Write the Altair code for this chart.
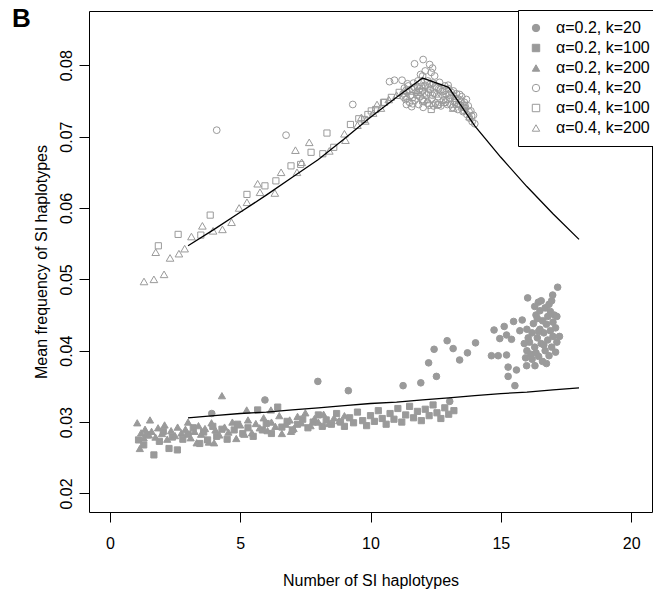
import altair as alt
import pandas as pd

GRAY = "#9a9a9a"
FONT = "Liberation Sans"

series_names = ["α=0.2, k=20", "α=0.2, k=100", "α=0.2, k=200",
                "α=0.4, k=20", "α=0.4, k=100", "α=0.4, k=200"]
series_shapes = ["circle", "square", "triangle-up", "circle", "square", "triangle-up"]
series_fills = [GRAY, GRAY, GRAY, "transparent", "transparent", "transparent"]
series_strokes = [GRAY] * 6
series_sizes = [44, 38, 52, 46, 38, 58]

# alpha=0.2, k=20 (filled circles)
a2k20_x = [3.91, 5.95, 7.98, 9.15, 11.25, 11.93, 12.23, 12.53, 12.44, 12.94, 13.17, 13.42, 13.72,
           14.03, 13.04, 14.74, 15.13, 15.49, 15.82, 14.96, 15.22, 15.41, 14.64, 14.90, 15.22,
           15.28, 15.60, 15.28, 15.54, 15.73, 16.03, 16.44, 16.99, 17.18, 17.25, 16.31, 15.99,
           16.0, 16.1, 16.15, 16.2, 16.25, 16.3, 16.35, 16.4, 16.45, 16.5, 16.5, 16.55, 16.6,
           16.6, 16.65, 16.7, 16.7, 16.75, 16.8, 16.8, 16.85, 16.9, 16.9, 16.95, 17.0, 17.0,
           17.05, 17.1, 17.1, 17.15, 16.4, 16.3, 16.55, 16.85, 16.2, 16.05, 16.65, 16.45,
           16.75, 16.95, 17.15, 16.35, 15.95, 16.0, 15.9]
a2k20_y = [0.0312, 0.0331, 0.0357, 0.0344, 0.0351, 0.0355, 0.0383, 0.0364, 0.0402, 0.0414, 0.0403,
           0.0387, 0.0397, 0.0411, 0.0329, 0.0429, 0.0434, 0.0441, 0.0443, 0.0417, 0.0422, 0.0416,
           0.0393, 0.0393, 0.0394, 0.0377, 0.0373, 0.0364, 0.0351, 0.0428, 0.0474, 0.0468, 0.0478,
           0.0489, 0.0420, 0.0379, 0.0379,
           0.0400, 0.0412, 0.0395, 0.0425, 0.0438, 0.0405, 0.0450, 0.0418, 0.0392, 0.0430, 0.0456,
           0.0410, 0.0442, 0.0385, 0.0425, 0.0460, 0.0400, 0.0437, 0.0415, 0.0448, 0.0393, 0.0428,
           0.0455, 0.0405, 0.0440, 0.0420, 0.0450, 0.0432, 0.0398, 0.0412, 0.0445, 0.0462, 0.0470,
           0.0465, 0.0388, 0.0418, 0.0408, 0.0427, 0.0382, 0.0470, 0.0448, 0.0397, 0.0390, 0.0430,
           0.0410]

# alpha=0.2, k=100 (filled squares)
a2k100_x = [1.1, 1.3, 1.45, 1.69, 1.9, 2.05, 2.27, 2.4, 2.59, 2.8, 3.0, 3.2, 3.45, 3.6, 3.75, 3.95,
            4.1, 4.3, 4.5, 4.77, 4.9, 5.1, 5.3, 5.5, 5.67, 5.85, 6.0, 6.2, 6.44, 6.6, 6.8, 7.0, 7.2,
            7.4, 7.6, 7.8, 8.0, 8.15, 8.3, 8.5, 8.7, 8.85, 9.0, 9.2, 9.35, 9.5, 9.7, 9.85, 10.0,
            10.15, 10.3, 10.45, 10.6, 10.75, 10.9, 11.05, 11.2, 11.35, 11.5, 11.65, 11.8, 11.95,
            12.1, 12.25, 12.4, 12.55, 12.7, 12.85, 13.0, 13.2]
a2k100_y = [0.0275, 0.0268, 0.0282, 0.0254, 0.0273, 0.0287, 0.0263, 0.0279, 0.0261, 0.0276, 0.0283,
            0.0292, 0.0270, 0.0286, 0.0275, 0.0294, 0.0280, 0.0290, 0.0276, 0.0289, 0.0297, 0.0284,
            0.0292, 0.0280, 0.0317, 0.0289, 0.0298, 0.0284, 0.0321, 0.0293, 0.0301, 0.0289, 0.0297,
            0.0304, 0.0292, 0.0300, 0.0310, 0.0294, 0.0303, 0.0297, 0.0312, 0.0300, 0.0294, 0.0306,
            0.0299, 0.0314, 0.0302, 0.0295, 0.0309, 0.0301, 0.0316, 0.0305, 0.0297, 0.0312, 0.0304,
            0.0319, 0.0300, 0.0310, 0.0322, 0.0306, 0.0315, 0.0302, 0.0318, 0.0309, 0.0324, 0.0313,
            0.0305, 0.0320, 0.0311, 0.0316]

# alpha=0.2, k=200 (filled triangles)
a2k200_x = [1.05, 1.15, 1.2, 1.3, 1.35, 1.5, 1.54, 1.6, 1.75, 1.85, 2.0, 2.1, 2.2, 2.35, 2.5, 2.6,
            2.75, 2.9, 3.0, 3.1, 3.25, 3.33, 3.4, 3.5, 3.65, 3.8, 3.9, 4.0, 4.05, 4.2, 4.3, 4.4,
            4.55, 4.7, 4.85, 5.0, 5.16, 5.25, 5.3, 5.45, 5.6, 5.75, 5.9, 6.05, 6.18, 6.2, 6.35,
            6.5, 6.6, 6.75, 6.9, 6.95, 7.05, 7.2, 7.35, 7.5, 7.7, 7.85, 8.0, 8.2, 8.4, 8.6, 8.8, 9.0]
a2k200_y = [0.0299, 0.0263, 0.0285, 0.0278, 0.0290, 0.0282, 0.0303, 0.0287, 0.0279, 0.0292, 0.0284,
            0.0296, 0.0276, 0.0288, 0.0281, 0.0293, 0.0285, 0.0290, 0.0300, 0.0278, 0.0287, 0.0271,
            0.0295, 0.0283, 0.0291, 0.0272, 0.0299, 0.0271, 0.0289, 0.0282, 0.0337, 0.0293, 0.0286,
            0.0300, 0.0277, 0.0296, 0.0283, 0.0317, 0.0303, 0.0285, 0.0298, 0.0292, 0.0306, 0.0288,
            0.0317, 0.0300, 0.0294, 0.0309, 0.0284, 0.0297, 0.0303, 0.0287, 0.0291, 0.0308, 0.0299,
            0.0313, 0.0295, 0.0305, 0.0300, 0.0311, 0.0298, 0.0306, 0.0302, 0.0309]

# alpha=0.4, k=20 (open circles)
a4k20_x = [4.10, 6.76, 9.32, 10.73, 10.92, 11.21, 11.69, 12.02, 12.27, 11.92, 12.33, 12.46,
           11.25, 11.30, 11.35, 11.40, 11.45, 11.50, 11.55, 11.60, 11.65, 11.70, 11.75, 11.80,
           11.85, 11.90, 11.95, 12.00, 12.05, 12.10, 12.15, 12.20, 12.25, 12.30, 12.35, 12.40,
           12.45, 12.50, 12.55, 12.60, 12.65, 12.70, 12.75, 12.80, 12.85, 12.90, 12.95, 13.00,
           13.05, 13.10, 13.15, 13.20, 13.25, 13.30, 13.35, 13.40, 13.45, 13.50, 13.55, 13.60,
           13.65, 13.70, 13.75, 13.80, 13.85, 13.90, 13.95, 14.00, 12.00, 12.10, 12.38,
           11.28, 11.38, 11.48, 11.58, 11.68, 11.78, 11.88, 11.98, 12.08, 12.18, 12.28, 12.38,
           12.48, 12.58, 12.68, 12.78, 12.88, 12.98, 13.08, 13.18, 13.28, 13.38, 13.48, 13.58,
           13.68, 13.78, 13.88, 11.42, 11.62, 11.82, 12.02, 12.22, 12.42, 12.62, 12.82, 13.02,
           13.22, 13.42, 13.62]
a4k20_y = [0.0709, 0.0702, 0.0745, 0.0777, 0.0779, 0.0779, 0.0802, 0.0808, 0.0801, 0.0787, 0.0790,
           0.0785,
           0.0760, 0.0768, 0.0752, 0.0763, 0.0771, 0.0748, 0.0758, 0.0766, 0.0775, 0.0751, 0.0762,
           0.0770, 0.0745, 0.0756, 0.0776, 0.0764, 0.0749, 0.0772, 0.0758, 0.0778, 0.0744, 0.0766,
           0.0753, 0.0775, 0.0761, 0.0747, 0.0769, 0.0756, 0.0776, 0.0743, 0.0763, 0.0751, 0.0771,
           0.0759, 0.0745, 0.0767, 0.0754, 0.0762, 0.0741, 0.0757, 0.0748, 0.0760, 0.0738, 0.0752,
           0.0744, 0.0756, 0.0735, 0.0748, 0.0740, 0.0731, 0.0743, 0.0726, 0.0736, 0.0721, 0.0730,
           0.0718, 0.0785, 0.0792, 0.0796,
           0.0755, 0.0745, 0.0765, 0.0742, 0.0769, 0.0758, 0.0767, 0.0752, 0.0761, 0.0747, 0.0773,
           0.0758, 0.0770, 0.0744, 0.0766, 0.0757, 0.0748, 0.0772, 0.0745, 0.0764, 0.0753, 0.0745,
           0.0749, 0.0741, 0.0752, 0.0735, 0.0729, 0.0774, 0.0746, 0.0778, 0.0741, 0.0762, 0.0743,
           0.0767, 0.0764, 0.0758, 0.0750, 0.0759, 0.0744]

# alpha=0.4, k=100 (open squares)
a4k100_x = [1.86, 2.62, 3.49, 3.85, 5.26, 5.95, 6.37, 6.95, 7.32, 7.72, 8.17, 8.33, 8.59, 9.23,
            9.55, 9.77, 9.9, 10.03, 10.2, 10.5, 10.54, 10.8, 11.1, 11.6, 11.9, 12.0, 12.2, 12.33,
            12.6, 12.9, 13.3, 13.6]
a4k100_y = [0.0547, 0.0563, 0.0562, 0.0590, 0.0619, 0.0631, 0.0638, 0.0659, 0.0661, 0.0678, 0.0676,
            0.0705, 0.0685, 0.0717, 0.0725, 0.0724, 0.0731, 0.0736, 0.0738, 0.0748, 0.0748, 0.0755,
            0.0762, 0.0755, 0.0762, 0.0750, 0.0768, 0.0738, 0.0745, 0.0752, 0.0745, 0.0737]

# alpha=0.4, k=200 (open triangles)
a4k200_x = [1.31, 1.69, 2.08, 1.76, 2.31, 2.65, 2.87, 3.13, 3.55, 3.96, 4.32, 4.67, 4.96, 5.26,
            5.67, 5.76, 6.33, 6.57, 7.12, 7.18, 7.36, 7.65, 8.42, 9.0, 9.04, 9.5, 9.65, 9.8, 10.1,
            10.25, 10.4, 10.7, 11.0, 11.3, 11.4, 11.8, 12.0, 12.2, 12.5, 12.8, 13.17, 13.5, 13.8]
a4k200_y = [0.0497, 0.0500, 0.0507, 0.0538, 0.0530, 0.0536, 0.0543, 0.0560, 0.0575, 0.0568, 0.0570,
            0.0580, 0.0600, 0.0608, 0.0634, 0.0622, 0.0621, 0.0650, 0.0681, 0.0650, 0.0664, 0.0692,
            0.0680, 0.0704, 0.0695, 0.0716, 0.0727, 0.0722, 0.0733, 0.0745, 0.0740, 0.0752, 0.0758,
            0.0765, 0.0757, 0.0765, 0.0772, 0.0752, 0.0760, 0.0748, 0.0740, 0.0742, 0.0728]

# expected curves
line_k = [3, 4, 5, 6, 7, 8, 9, 10, 11, 12, 13, 14, 15, 16, 17, 18]
upper_line_y = [0.0547, 0.0570, 0.0594, 0.0618, 0.0643, 0.0668, 0.0697, 0.0727, 0.0755, 0.0782,
                0.0769, 0.0715, 0.0671, 0.0630, 0.0592, 0.0556]
lower_line_y = [0.0306, 0.0309, 0.0312, 0.0314, 0.0317, 0.0320, 0.0323, 0.0326, 0.0328, 0.0331,
                0.0334, 0.0337, 0.0340, 0.0342, 0.0345, 0.0348]

x_ticks = [0, 5, 10, 15, 20]
y_ticks = [0.02, 0.03, 0.04, 0.05, 0.06, 0.07, 0.08]

series_xy = [(a2k20_x, a2k20_y), (a2k100_x, a2k100_y), (a2k200_x, a2k200_y),
             (a4k20_x, a4k20_y), (a4k100_x, a4k100_y), (a4k200_x, a4k200_y)]

xscale = alt.Scale(domain=[-0.8, 20.8], nice=False, zero=False)
yscale = alt.Scale(domain=[0.0174, 0.0876], nice=False, zero=False)

xaxis = alt.Axis(values=x_ticks, format="d", title="Number of SI haplotypes",
                 titleX=281.5, titleY=73, titleAlign="center", titleBaseline="alphabetic",
                 labelPadding=13, tickSize=10, labelOverlap=False, grid=False, domain=False)
yaxis = alt.Axis(values=y_ticks, format=".2f", title="Mean frequency of SI haplotypes",
                 labelAngle=270, labelAlign="center", labelBaseline="alphabetic",
                 labelPadding=8, tickSize=10, labelOverlap=False, grid=False, domain=False,
                 titleAngle=270, titleX=-43, titleY=250.5, titleAlign="center",
                 titleBaseline="alphabetic")

legend = alt.Legend(title=None, orient="none", legendX=429, legendY=-1, padding=10,
                    strokeColor="black", fillColor="white", symbolSize=55,
                    symbolStrokeWidth=1, labelFontSize=16,
                    labelFont=FONT, labelColor="black", rowPadding=4, labelOffset=12,
                    cornerRadius=0)

layers = []
for name, (xs, ys), sz in zip(series_names, series_xy, series_sizes):
    df = pd.DataFrame({"x": xs, "y": ys, "series": name})
    layers.append(
        alt.Chart(df).mark_point(size=sz, strokeWidth=1, opacity=1).encode(
            x=alt.X("x:Q", scale=xscale, axis=xaxis),
            y=alt.Y("y:Q", scale=yscale, axis=yaxis),
            shape=alt.Shape("series:N", scale=alt.Scale(domain=series_names, range=series_shapes),
                            legend=legend),
            fill=alt.Fill("series:N", scale=alt.Scale(domain=series_names, range=series_fills),
                          legend=legend),
            stroke=alt.Stroke("series:N", scale=alt.Scale(domain=series_names, range=series_strokes),
                              legend=legend),
        )
    )

lines_df = pd.concat([
    pd.DataFrame({"x": line_k, "y": upper_line_y, "curve": "upper"}),
    pd.DataFrame({"x": line_k, "y": lower_line_y, "curve": "lower"}),
])
lines = alt.Chart(lines_df).mark_line(color="black", strokeWidth=1.3).encode(
    x=alt.X("x:Q", scale=xscale, axis=xaxis),
    y=alt.Y("y:Q", scale=yscale, axis=yaxis),
    detail="curve:N",
)

panel_df = pd.DataFrame({"label": ["B"]})
panel = alt.Chart(panel_df).mark_text(font=FONT, fontSize=26, fontWeight="bold",
                                      align="left", baseline="alphabetic", color="black").encode(
    text="label:N", x=alt.value(-77), y=alt.value(16))

chart = alt.layer(*layers, lines, panel).properties(
    width=563, height=501,
    autosize=alt.AutoSizeParams(type="none"),
    padding={"left": 89, "top": 11, "right": 1, "bottom": 80},
).configure_view(
    stroke="black", strokeWidth=1
).configure_axis(
    grid=False, domain=False, tickColor="black", tickWidth=1,
    labelFont=FONT, labelFontSize=16, labelColor="black",
    titleFont=FONT, titleFontSize=16, titleFontWeight="normal", titleColor="black",
)

chart.save("out.html", embed_options={"renderer": "svg", "actions": False})
